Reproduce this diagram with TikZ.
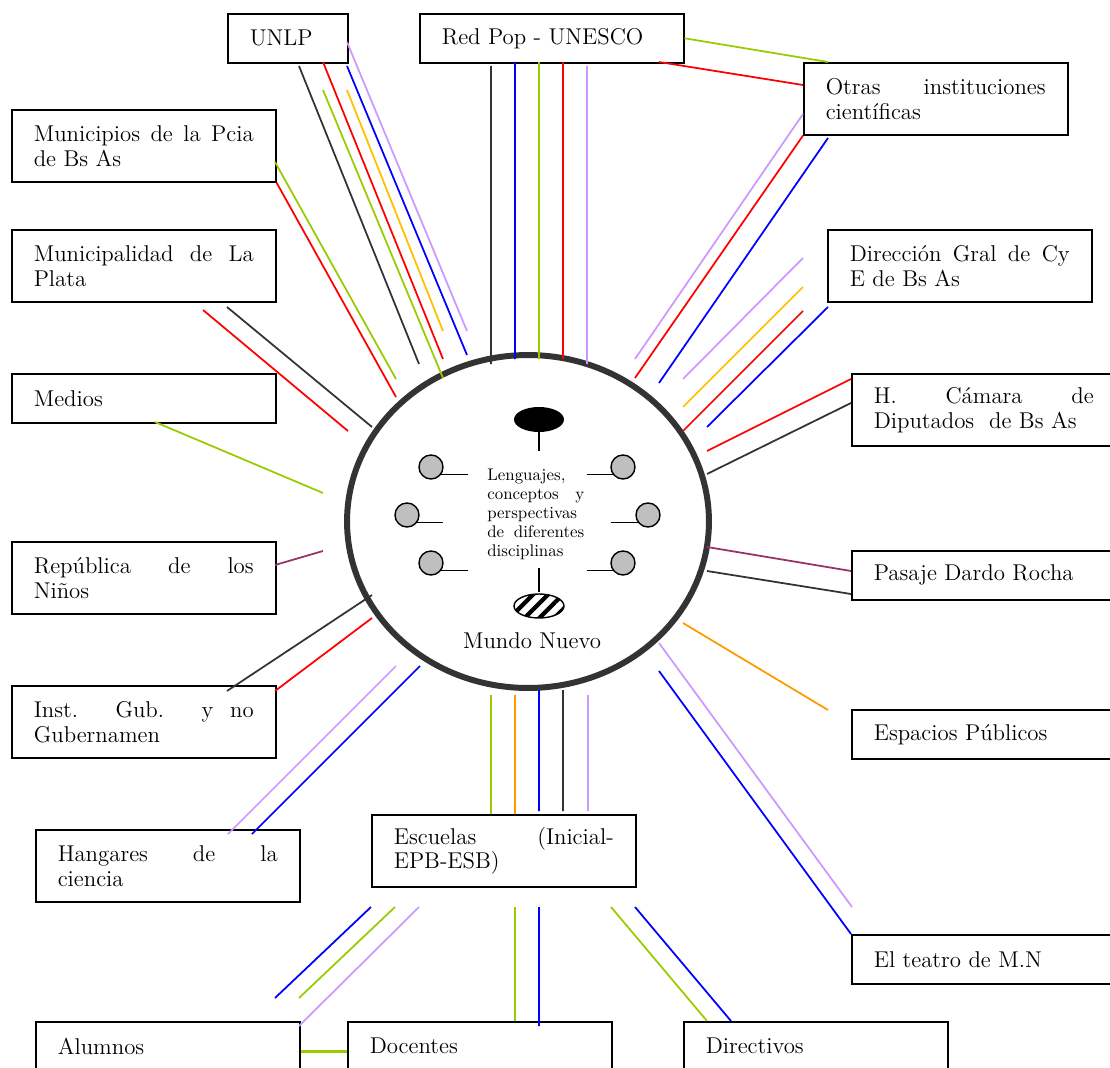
\documentclass[tikz,border=0pt]{standalone}
\usepackage{tikz}
\usetikzlibrary{shapes.geometric,patterns.meta}
\definecolor{lgreen}{HTML}{99CC00}
\definecolor{lgold}{HTML}{FFC000}
\definecolor{llilac}{HTML}{CC99FF}
\definecolor{lplum}{HTML}{993366}
\definecolor{lorange}{HTML}{FF9900}
\definecolor{ldark}{HTML}{333333}
\hyphenpenalty=10000
\exhyphenpenalty=10000
\tolerance=10000

\begin{document}
\begin{tikzpicture}[x=0.02cm,y=-0.02cm,
			box/.style={draw=black, line width=0.9pt, anchor=north west, text width=4.4cm, inner xsep=0.44cm, inner ysep=0pt, minimum height=0.98cm, align=justify, font=\fontsize{13}{14.2}\selectfont},
			tall/.style={minimum height=1.44cm},
			ln/.style={line width=1pt},
			dot/.style={circle, draw=black, line width=0.8pt, fill=black!25, inner sep=0pt, minimum size=0.48cm}]
		\useasboundingbox (0,0) rectangle (1110,1068);

		% Mundo Nuevo
		\node (mn) [ellipse, draw=ldark, line width=3.4pt, fill=white, inner sep=0pt, minimum width=7.24cm, minimum height=6.66cm] at (528,521.5) {};
		\node (tip) [ellipse, fill=black, inner sep=0pt, minimum width=1cm, minimum height=0.5cm] at (539,419.5) {};
		\node (hatch) [ellipse, draw=black, line width=0.8pt, pattern={Lines[angle=45,distance=6pt,line width=2.4pt]}, inner sep=0pt, minimum width=1cm, minimum height=0.48cm] at (539,606) {};
		\path 	(431,467) node (g1) [dot] {}
		        (407,515) node (g2) [dot] {}
		        (431,563) node (g3) [dot] {}
		        (623,467) node (g4) [dot] {}
		        (648,515) node (g5) [dot] {}
		        (623,563) node (g6) [dot] {};
		\draw [line width=0.8pt] (tip.south) -- ++(0,19) (hatch.north) -- ++(0,-24)
		        (g1.-36) -- ++(27,0) (g2.-36) -- ++(26,0) (g3.-36) -- ++(27,0)
		        (g4.216) -- ++(-26,0) (g5.216) -- ++(-27,0) (g6.216) -- ++(-26,0);
		\node (lcd) [anchor=west, text width=1.94cm, inner sep=0pt, align=left, font=\fontsize{9.6}{10.8}\selectfont] at (487,514)
		        {Lenguajes,\\ conceptos\hfill y\\ perspectivas\\ de\hfill diferentes\\ disciplinas};
		\node (mnl) [font=\fontsize{13}{14.2}\selectfont] at (532,641) {Mundo Nuevo};

		% boxes
		\path 	(227,13) 	node 	(unlp) [box, text width=1.52cm] {UNLP}
		        (419,13) 	node 	(redpop) [box] {Red Pop - UNESCO}
		        (803,62) 	node 	(otras) [box, tall] {Otras instituciones\linebreak científicas}
		        (11,109) 	node 	(mpba) [box, tall] {Municipios de la Pcia\linebreak de Bs As}
		        (11,229) 	node 	(mlp) [box, tall] {Municipalidad de La\linebreak Plata}
		        (827,229) 	node 	(dgcye) [box, tall] {Dirección Gral de Cy\linebreak E de Bs As}
		        (11,373) 	node 	(medios) [box] {Medios}
		        (851,373) 	node 	(hcd) [box, tall] {H. Cámara de\linebreak Diputados~~de~Bs~As}
		        (11,541) 	node 	(rninos) [box, tall] {República de los\linebreak Niños}
		        (851,550) 	node 	(pdr) [box] {Pasaje Dardo Rocha}
		        (11,685) 	node 	(igub) [box, tall] {Inst. Gub. y no\linebreak Gubernamen}
		        (851,709) 	node 	(esp) [box] {Espacios Públicos}
		        (35,829) 	node 	(hang) [box, tall] {Hangares de la\linebreak ciencia}
		        (371,814) 	node 	(esc) [box, tall] {Escuelas (Inicial-\linebreak EPB-ESB)}
		        (851,934) 	node 	(teatro) [box] {El teatro de M.N}
		        (35,1021) 	node 	(alum) [box] {Alumnos}
		        (347,1021) 	node 	(doc) [box] {Docentes}
		        (683,1021) 	node 	(dir) [box] {Directivos};

		% free ends of the links
		\path 	(299,66) coordinate (u1a) (419,364) coordinate (u1b)
		        (323,90) coordinate (u2a) (443,378) coordinate (u2b)
		        (323,62) coordinate (u3a) (443,359) coordinate (u3b)
		        (347,90) coordinate (u4a) (443,331) coordinate (u4b)
		        (347,66) coordinate (u5a) (467,355) coordinate (u5b)
		        (347,42) coordinate (u6a) (467,331) coordinate (u6b)
		        (491,66) coordinate (r1a) (491,364) coordinate (r1b)
		        (515,62) coordinate (r2a) (515,359) coordinate (r2b)
		        (539,62) coordinate (r3a) (539,359) coordinate (r3b)
		        (563,62) coordinate (r4a) (563,359) coordinate (r4b)
		        (587,66) coordinate (r5a) (587,364) coordinate (r5b)
		        (828,62) coordinate (ro1) (659,62) coordinate (ro2a) (803,85) coordinate (ro2b)
		        (803,114) coordinate (o1a) (635,359) coordinate (o1b)
		        (635,378) coordinate (o2b)
		        (828,138) coordinate (o3a) (659,383) coordinate (o3b)
		        (803,258) coordinate (d1a) (683,379) coordinate (d1b)
		        (803,287) coordinate (d2a) (683,407) coordinate (d2b)
		        (803,311) coordinate (d3a) (683,431) coordinate (d3b)
		        (828,307) coordinate (d4a) (707,427) coordinate (d4b)
		        (851,379) coordinate (h1a) (707,451) coordinate (h1b)
		        (851,403) coordinate (h2a) (707,474) coordinate (h2b)
		        (275,162) coordinate (m1a) (396,379) coordinate (m1b)
		        (396,397) coordinate (m2b)
		        (203,310) coordinate (p1a) (348,431) coordinate (p1b)
		        (227,307) coordinate (p2a) (372,427) coordinate (p2b)
		        (155,422) coordinate (me1a) (323,493) coordinate (me1b)
		        (275,565) coordinate (rn1a) (323,551) coordinate (rn1b)
		        (227,691) coordinate (i1a) (372,595) coordinate (i1b)
		        (275,691) coordinate (i2a) (372,618) coordinate (i2b)
		        (228,834) coordinate (hg1a) (396,666) coordinate (hg1b)
		        (252,834) coordinate (hg2a) (420,666) coordinate (hg2b)
		        (491,695) coordinate (e1a) (491,814) coordinate (e1b)
		        (515,695) coordinate (e2a) (515,814) coordinate (e2b)
		        (539,690) coordinate (e3a) (539,811) coordinate (e3b)
		        (563,690) coordinate (e4a) (563,811) coordinate (e4b)
		        (588,695) coordinate (e5a) (588,811) coordinate (e5b)
		        (707,547) coordinate (pd1a) (851,571) coordinate (pd1b)
		        (707,571) coordinate (pd2a) (851,594) coordinate (pd2b)
		        (683,623) coordinate (ep1a) (828,710) coordinate (ep1b)
		        (659,643) coordinate (t1a) (852,907) coordinate (t1b)
		        (659,671) coordinate (t2a)
		        (371,907) coordinate (a1a) (275,998) coordinate (a1b)
		        (395,907) coordinate (a2a) (299,998) coordinate (a2b)
		        (419,907) coordinate (a3a) (299,1026) coordinate (a3b)
		        (515,907) coordinate (dc1a) (515,1021) coordinate (dc1b)
		        (539,907) coordinate (dc2a) (539,1026) coordinate (dc2b)
		        (611,907) coordinate (dr1a) (707,1021) coordinate (dr1b)
		        (635,907) coordinate (dr2a) (731,1021) coordinate (dr2b);

		% links
		\draw [ln, ldark] (u1a) -- (u1b) (r1a) -- (r1b) (h2a) -- (h2b) (p2a) -- (p2b)
		        (i1a) -- (i1b) (e4a) -- (e4b) (pd2a) -- (pd2b);
		\draw [ln, red] (u3a) -- (u3b) (r4a) -- (r4b) (ro2a) -- (ro2b) (otras.south west) -- (o2b)
		        (d3a) -- (d3b) (h1a) -- (h1b) (mpba.south east) -- (m2b) (p1a) -- (p1b) (i2a) -- (i2b);
		\draw [ln, blue] (u5a) -- (u5b) (r2a) -- (r2b) (o3a) -- (o3b) (d4a) -- (d4b) (hg2a) -- (hg2b)
		        (e3a) -- (e3b) (t2a) -- (teatro.north west) (a1a) -- (a1b) (dc2a) -- (dc2b) (dr2a) -- (dr2b);
		\draw [ln, lgreen] (u2a) -- (u2b) (r3a) -- (r3b) (redpop.east) -- (ro1) (m1a) -- (m1b)
		        (me1a) -- (me1b) (e1a) -- (e1b) (a2a) -- (a2b) (dc1a) -- (dc1b) (dr1a) -- (dr1b);
		\draw [ln, lgold] (u4a) -- (u4b) (d2a) -- (d2b);
		\draw [ln, llilac] (u6a) -- (u6b) (r5a) -- (r5b) (o1a) -- (o1b) (d1a) -- (d1b) (hg1a) -- (hg1b)
		        (e5a) -- (e5b) (t1a) -- (t1b) (a3a) -- (a3b);
		\draw [ln, lplum] (rn1a) -- (rn1b) (pd1a) -- (pd1b);
		\draw [ln, lorange] (e2a) -- (e2b) (ep1a) -- (ep1b);
		\draw [lgreen, line width=1.5pt] ([yshift=-0.1cm]alum.east) -- ([yshift=-0.1cm]doc.west);
	\end{tikzpicture}
\end{document}
